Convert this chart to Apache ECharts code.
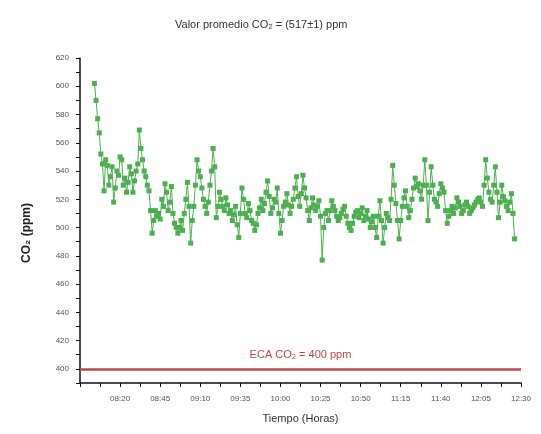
<!DOCTYPE html>
<html>
<head>
<meta charset="utf-8">
<script src="https://cdn.jsdelivr.net/npm/echarts@6/dist/echarts.min.js"></script>
<style>
  html, body { margin: 0; padding: 0; background: #fff; }
  #chart { width: 541px; height: 434px; }
</style>
</head>
<body>
<div id="chart"></div>
<script>
// horas de medicion (cada minuto)
var tiempos = [
  "08:04","08:05","08:06","08:07","08:08","08:09","08:10","08:11","08:12","08:13",
  "08:14","08:15","08:16","08:17","08:18","08:19","08:20","08:21","08:22","08:23",
  "08:24","08:25","08:26","08:27","08:28","08:29","08:30","08:31","08:32","08:33",
  "08:34","08:35","08:36","08:37","08:38","08:39","08:40","08:41","08:42","08:43",
  "08:44","08:45","08:46","08:47","08:48","08:49","08:50","08:51","08:52","08:53",
  "08:54","08:55","08:56","08:57","08:58","08:59","09:00","09:01","09:02","09:03",
  "09:04","09:05","09:06","09:07","09:08","09:09","09:10","09:11","09:12","09:13",
  "09:14","09:15","09:16","09:17","09:18","09:19","09:20","09:21","09:22","09:23",
  "09:24","09:25","09:26","09:27","09:28","09:29","09:30","09:31","09:32","09:33",
  "09:34","09:35","09:36","09:37","09:38","09:39","09:40","09:41","09:42","09:43",
  "09:44","09:45","09:46","09:47","09:48","09:49","09:50","09:51","09:52","09:53",
  "09:54","09:55","09:56","09:57","09:58","09:59","10:00","10:01","10:02","10:03",
  "10:04","10:05","10:06","10:07","10:08","10:09","10:10","10:11","10:12","10:13",
  "10:14","10:15","10:16","10:17","10:18","10:19","10:20","10:21","10:22","10:23",
  "10:24","10:25","10:26","10:27","10:28","10:29","10:30","10:31","10:32","10:33",
  "10:34","10:35","10:36","10:37","10:38","10:39","10:40","10:41","10:42","10:43",
  "10:44","10:45","10:46","10:47","10:48","10:49","10:50","10:51","10:52","10:53",
  "10:54","10:55","10:56","10:57","10:58","10:59","11:00","11:01","11:02","11:03",
  "11:04","11:05","11:06","11:07","11:08","11:09","11:10","11:11","11:12","11:13",
  "11:14","11:15","11:16","11:17","11:18","11:19","11:20","11:21","11:22","11:23",
  "11:24","11:25","11:26","11:27","11:28","11:29","11:30","11:31","11:32","11:33",
  "11:34","11:35","11:36","11:37","11:38","11:39","11:40","11:41","11:42","11:43",
  "11:44","11:45","11:46","11:47","11:48","11:49","11:50","11:51","11:52","11:53",
  "11:54","11:55","11:56","11:57","11:58","11:59","12:00","12:01","12:02","12:03",
  "12:04","12:05","12:06","12:07","12:08","12:09","12:10","12:11","12:12","12:13",
  "12:14","12:15","12:16","12:17","12:18","12:19","12:20","12:21","12:22","12:23",
  "12:24","12:25","12:26"
];
// concentracion CO2 (ppm)
var co2 = [
  602,590,577,567,552,545,526,548,544,530,
  536,543,518,528,540,537,550,548,530,535,
  525,532,543,538,525,533,540,545,569,556,
  548,540,536,530,526,512,496,505,512,508,
  510,506,520,515,531,525,512,518,529,510,
  503,500,496,500,505,498,510,520,532,515,
  489,505,515,530,548,540,536,528,520,515,
  510,518,530,540,556,543,507,515,525,520,
  515,512,521,516,510,512,505,509,515,502,
  493,510,528,520,510,507,517,512,505,503,
  498,502,510,514,520,512,517,525,533,522,
  510,514,520,518,528,510,496,505,515,518,
  524,516,510,515,520,528,536,522,515,524,
  537,528,521,512,505,514,521,516,512,515,
  519,508,477,500,510,512,505,512,519,515,
  512,508,505,507,510,513,515,508,503,500,
  498,503,508,511,512,507,510,514,505,508,
  512,506,500,504,508,500,493,508,519,505,
  489,500,510,507,505,520,544,530,517,505,
  492,505,515,521,526,515,507,512,520,528,
  535,529,531,526,520,530,548,530,505,525,
  543,530,520,518,515,524,531,528,525,512,
  503,508,512,515,510,514,521,518,515,510,
  512,516,518,515,510,512,514,516,518,520,
  521,518,515,530,548,535,525,520,518,530,
  543,525,507,518,530,522,519,515,512,518,
  524,510,492
];
var limiteECA = 400;
var ticksHora = ["08:20","08:45","09:10","09:35","10:00","10:25","10:50","11:15","11:40","12:05","12:30"];

function aMinutos(h) {
  var p = h.split(":");
  return parseInt(p[0], 10) * 60 + parseInt(p[1], 10);
}
function aHora(m) {
  var h = Math.floor(m / 60), mm = Math.round(m % 60);
  return (h < 10 ? "0" + h : "" + h) + ":" + (mm < 10 ? "0" + mm : "" + mm);
}

var puntos = tiempos.map(function (t, i) { return [aMinutos(t), co2[i]]; });
var etiquetas = ticksHora.map(aMinutos);

var myChart = echarts.init(document.getElementById("chart"));
var fuente = "Liberation Sans";

var option = {
  animation: false,
  textStyle: { fontFamily: fuente },
  title: {
    text: "Valor promedio CO₂ = (517±1) ppm",
    left: 170,
    top: 14,
    textStyle: { fontSize: 11, fontWeight: "normal", color: "#333", fontFamily: fuente }
  },
  grid: { left: 80, right: 20, top: 58, bottom: 51 },
  xAxis: {
    type: "value",
    min: 475,
    max: 750,
    interval: 12.5,
    name: "Tiempo (Horas)",
    nameLocation: "middle",
    nameGap: 30,
    nameTextStyle: { fontSize: 11, color: "#333" },
    splitLine: { show: false },
    axisLine: { lineStyle: { color: "#111", width: 1.5 } },
    axisTick: { length: 4, lineStyle: { color: "#111" } },
    axisLabel: {
      fontSize: 8,
      color: "#555",
      margin: 12,
      formatter: function (v) {
        return etiquetas.indexOf(v) >= 0 ? aHora(v) : "";
      }
    }
  },
  yAxis: {
    type: "value",
    min: 390,
    max: 620,
    interval: 10,
    splitLine: { show: false },
    axisLine: { show: true, lineStyle: { color: "#111", width: 1.5 } },
    axisTick: { show: true, length: 4, lineStyle: { color: "#111" } },
    axisLabel: {
      fontSize: 8,
      color: "#555",
      margin: 11,
      formatter: function (v) { return v % 20 === 0 ? v : ""; }
    }
  },
  graphic: [
    {
      type: "text",
      x: 27,
      y: 233,
      rotation: Math.PI / 2,
      style: {
        text: "CO₂ (ppm)",
        fontSize: 12,
        fontWeight: "bold",
        fill: "#222",
        fontFamily: fuente,
        align: "center",
        verticalAlign: "middle"
      }
    }
  ],
  series: [
    {
      name: "CO2",
      type: "line",
      data: puntos,
      symbol: "rect",
      symbolSize: 5,
      showSymbol: true,
      showAllSymbol: true,
      lineStyle: { color: "#4caf50", width: 1 },
      itemStyle: { color: "#4caf50" },
      markLine: {
        silent: true,
        symbol: "none",
        data: [{ yAxis: limiteECA }],
        lineStyle: { color: "#c0484a", width: 2.5, type: "solid" },
        label: {
          position: "middle",
          distance: 8,
          formatter: "ECA CO₂ = 400 ppm",
          color: "#c0484a",
          fontSize: 11,
          fontFamily: fuente
        }
      }
    }
  ]
};

if (option && typeof option === "object") {
  myChart.setOption(option);
}
</script>
</body>
</html>
